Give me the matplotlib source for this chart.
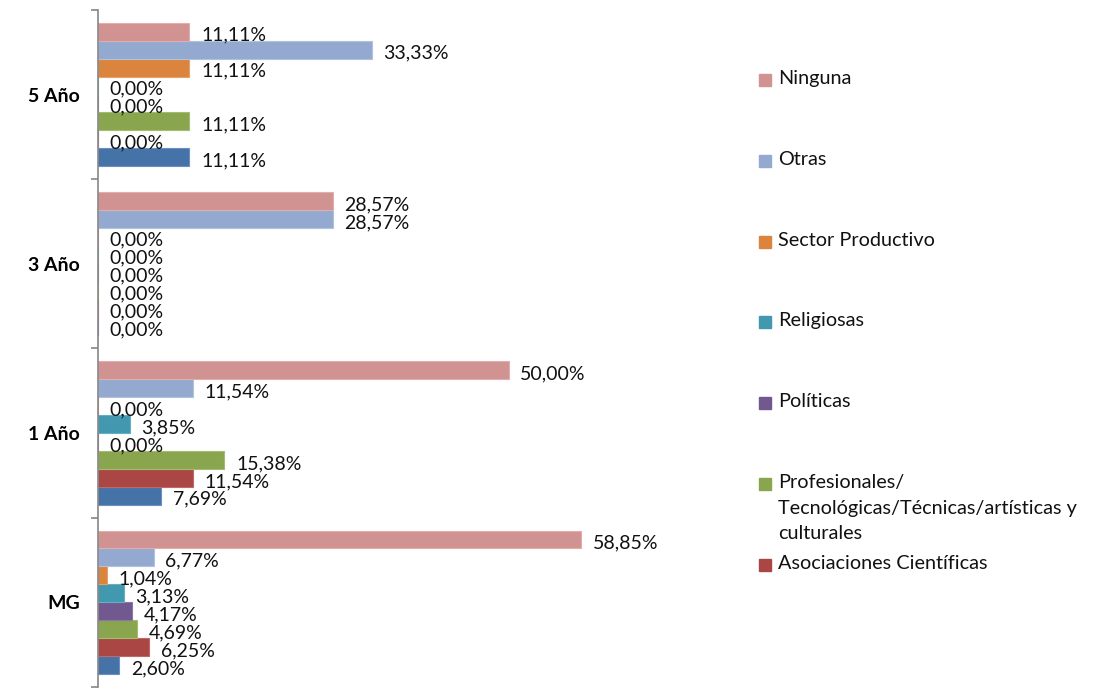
import matplotlib
matplotlib.use("Agg")
import matplotlib.pyplot as plt
from matplotlib.patches import Rectangle
import numpy as np

plt.rcParams['font.family'] = ['Lato', 'DejaVu Sans']

categories = ["MG", "1 Año", "3 Año", "5 Año"]

# series from bottom to top of each group
series_names = ["Serie 1", "Asociaciones Científicas",
                "Profesionales/\nTecnológicas/Técnicas/artísticas y\nculturales",
                "Políticas", "Religiosas", "Sector Productivo", "Otras", "Ninguna"]
serie1 = [2.60, 7.69, 0.00, 11.11]
asociaciones = [6.25, 11.54, 0.00, 0.00]
profesionales = [4.69, 15.38, 0.00, 11.11]
politicas = [4.17, 0.00, 0.00, 0.00]
religiosas = [3.13, 3.85, 0.00, 0.00]
sector = [1.04, 0.00, 0.00, 11.11]
otras = [6.77, 11.54, 28.57, 33.33]
ninguna = [58.85, 50.00, 28.57, 11.11]

series_values = [serie1, asociaciones, profesionales, politicas,
                 religiosas, sector, otras, ninguna]
colors = ["#4572A7", "#AA4643", "#89A54E", "#71588F",
          "#4198AF", "#DB843D", "#93A9CF", "#D19392"]
edge_colors = ["#6A8FC0", "#C06A67", "#A3BC70", "#8C75A8",
               "#63B0C5", "#E8A064", "#B0C2DE", "#DFAEAD"]

fig = plt.figure(figsize=(10.94, 6.89), dpi=100)
ax = fig.add_axes([0.0896, 0.003, 0.62, 0.9826])

n = len(series_values)
bar_h = 0.106
y = np.arange(len(categories))
for i, (vals, c, ec) in enumerate(zip(series_values, colors, edge_colors)):
    pos = y + (i - (n - 1) / 2) * bar_h
    ax.barh(pos, vals, height=bar_h, color=c, edgecolor=ec, linewidth=0.8)
    for p, v in zip(pos, vals):
        lbl = f"{v:.2f}".replace(".", ",") + "%"
        ax.annotate(lbl, xy=(v, p), xytext=(8.5, -2.5), textcoords="offset points",
                    ha="left", va="center", fontsize=14, color="#111111")

ax.set_xlim(0, 82.6)
ax.set_ylim(-0.5, 3.5)
ax.set_yticks([-0.5, 0.5, 1.5, 2.5, 3.5])
ax.set_yticklabels([])
ax.set_yticks(y, minor=True)
ax.set_yticklabels(categories, minor=True, fontweight="bold", fontsize=14)
ax.tick_params(axis="y", which="major", length=5, color="#868686", width=1.2, direction="out")
ax.tick_params(axis="y", which="minor", length=0, pad=13)
ax.xaxis.set_visible(False)
for s in ["top", "right", "bottom"]:
    ax.spines[s].set_visible(False)
ax.spines["left"].set_color("#868686")
ax.spines["left"].set_linewidth(1.2)

# legend (top-to-bottom order, as in the reference)
legend_order = [7, 6, 5, 4, 3, 2, 1]
W, H = 1094, 689
y0 = 80
step = 80.8
for k, idx in enumerate(legend_order):
    yc = y0 + k * step
    fig.patches.append(Rectangle((759 / W, 1 - (yc + 6) / H), 12 / W, 12 / H,
                                 transform=fig.transFigure, color=colors[idx]))
    fig.text(778 / W, 1 - (yc - 10) / H, series_names[idx], ha="left", va="top",
             fontsize=14.3, color="#111111", linespacing=1.62)

fig.savefig("out.png", dpi=100)
